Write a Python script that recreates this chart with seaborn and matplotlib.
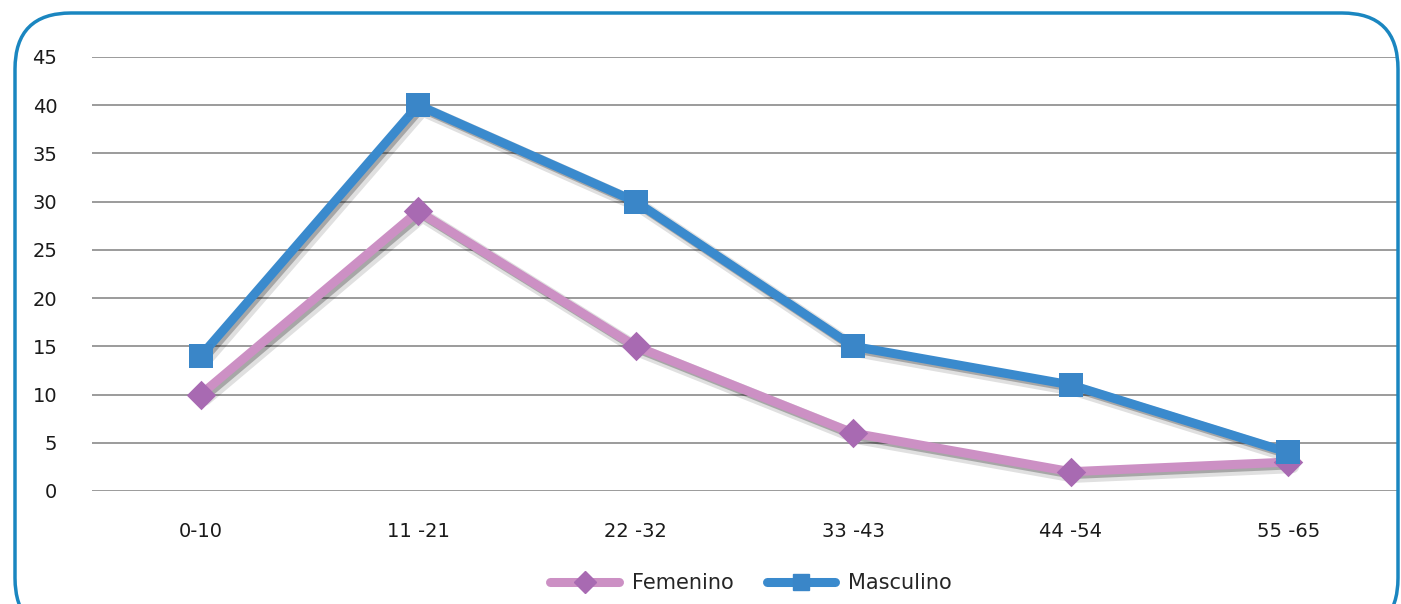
import matplotlib
matplotlib.use("Agg")
import matplotlib.pyplot as plt
import matplotlib.patheffects as pe
from matplotlib.patches import FancyBboxPatch
from matplotlib.lines import Line2D
import seaborn as sns
import pandas as pd

categories = ["0-10", "11 -21", "22 -32", "33 -43", "44 -54", "55 -65"]
femenino = [10, 29, 15, 6, 2, 3]
masculino = [14, 40, 30, 15, 11, 4]
series_names = ["Femenino", "Masculino"]

df = pd.DataFrame({
    "grupo": categories * 2,
    "valor": femenino + masculino,
    "sexo": [series_names[0]] * len(categories) + [series_names[1]] * len(categories),
})

sns.set_theme(style="white")
plt.rcParams["font.family"] = ["DejaVu Sans"]

fig = plt.figure(figsize=(14.01, 6.04), dpi=100)
ax = fig.add_axes([92 / 1401, (604 - 491) / 604, 1305 / 1401, 434 / 604])

palette = {"Femenino": "#CC90C4", "Masculino": "#3A8ACD"}
markers = {"Femenino": "D", "Masculino": "s"}
msize = {"Femenino": 15, "Masculino": 17}
mfc = {"Femenino": "#A86AB2", "Masculino": "#3A86C8"}

shadow = [pe.SimpleLineShadow(offset=(3, -3), shadow_color="black", alpha=0.12, linewidth=10),
          pe.SimpleLineShadow(offset=(2, -2), shadow_color="black", alpha=0.25),
          pe.Normal()]

for name in series_names:
    sub = df[df["sexo"] == name]
    z = 3 if name == "Masculino" else 2
    sns.lineplot(data=sub, x="grupo", y="valor", ax=ax, color=palette[name],
                 linewidth=6.5, path_effects=shadow, zorder=z, legend=False)
    sns.scatterplot(data=sub, x="grupo", y="valor", ax=ax, color=mfc[name],
                    marker=markers[name], s=msize[name] ** 2, edgecolor=mfc[name],
                    linewidth=0, zorder=z + 0.5, legend=False)

ax.set_xlim(-0.5, 5.5)
ax.set_ylim(0, 45)
ax.set_yticks(range(0, 46, 5))
ax.grid(axis="y", color="#8a8a8a", linewidth=1.2)
ax.set_axisbelow(True)
for s in ax.spines.values():
    s.set_visible(False)
ax.set_xlabel("")
ax.set_ylabel("")
ax.tick_params(axis="y", length=0, pad=25, labelsize=14, labelcolor="#1a1a1a")
ax.tick_params(axis="x", length=0, pad=22, labelsize=14, labelcolor="#1a1a1a")

handles = [Line2D([], [], color=palette[n], linewidth=6.5, marker=markers[n],
                  markersize=11, markerfacecolor=mfc[n], markeredgecolor=mfc[n])
           for n in series_names]
fig.legend(handles, series_names, loc="center", bbox_to_anchor=(0.536, 0.034), ncol=2,
           frameon=False, fontsize=15, handlelength=3.3, columnspacing=1.6, handletextpad=0.6)

box = FancyBboxPatch((15 / 1401, -30 / 604), (1398 - 15) / 1401, (604 + 30 - 13) / 604,
                     boxstyle="round,pad=0,rounding_size=0.04",
                     transform=fig.transFigure, fill=False, edgecolor="#1A86C0",
                     linewidth=2.5, mutation_aspect=1401 / 604, clip_on=False)
fig.patches.append(box)

fig.savefig("out.png", dpi=100)
